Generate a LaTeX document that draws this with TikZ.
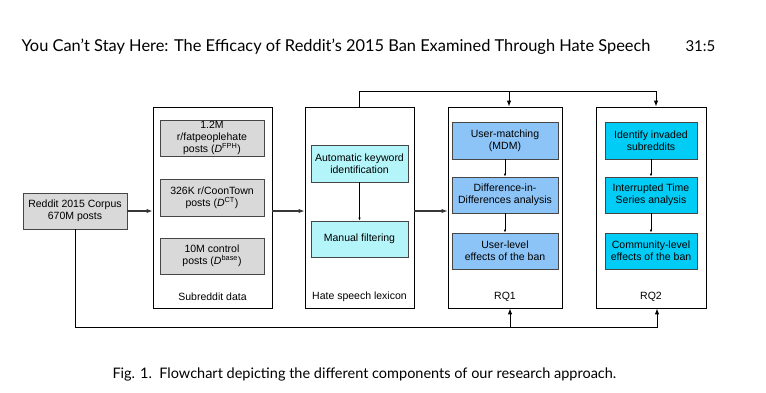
\documentclass[tikz,border=0pt]{standalone}
\usepackage{fontspec}
\usepackage{tikz}
\usepackage{xcolor}
\setmainfont{Liberation Sans}
\newfontfamily\headfont{Lato}
\usetikzlibrary{arrows.meta}
\definecolor{boxgray}{RGB}{217, 217, 217}
\definecolor{lexcyan}{RGB}{180, 245, 250}
\definecolor{rqblue}{RGB}{140, 196, 248}
\definecolor{rqcyan}{RGB}{0, 204, 245}
\definecolor{edgegray}{RGB}{70, 70, 70}
\definecolor{arrowgray}{RGB}{55, 55, 55}

\begin{document}
\begin{tikzpicture}[x = 1pt, y = -1pt, font = \fontsize{10.5}{12}\selectfont, >={Latex[length = 6pt, width = 4.5pt]},
  group/.style = {draw = black, line width = 0.8pt, fill = white, inner sep = 0pt, minimum height = 201pt},
  stage/.style = {draw = edgegray, line width = 0.8pt, align = center, inner sep = 0pt},
  flow/.style = {->, line width = 1.5pt, color = arrowgray},
  inflow/.style = {-{Latex[length = 3pt, width = 2.5pt]}, line width = 0.6pt},
  rail/.style = {->, line width = 1pt}]
\fill[white] (0,0) rectangle (766,393);
\useasboundingbox (0,0) rectangle (766,393);
\node[anchor = base west, font = \headfont\fontsize{16.4}{19}\selectfont] (runhead) at (18,52) {You Can’t Stay Here: The Efficacy of Reddit’s 2015 Ban Examined Through Hate Speech};
\node[anchor = base west, font = \headfont\fontsize{15}{18}\selectfont] (pageno) at (682,52) {31:5};
\node[stage, fill = boxgray, minimum width = 104pt, minimum height = 36pt] (corpus) at (75,211) {Reddit 2015 Corpus\\670M posts};
\node[group, minimum width = 119pt] (subgrp) at (212.5,207.5) {};
\node[stage, fill = boxgray, minimum width = 104pt, minimum height = 36pt] (fph) at (212,138) {1.2M\\r/fatpeoplehate\\posts (\textit{D}\textsuperscript{FPH})};
\node[stage, fill = boxgray, minimum width = 104pt, minimum height = 37pt] (coon) at (212,197.5) {326K r/CoonTown\\posts (\textit{D}\textsuperscript{CT})};
\node[stage, fill = boxgray, minimum width = 104pt, minimum height = 36pt] (base) at (212,256) {10M control\\posts (\textit{D}\textsuperscript{base})};
\node (sublbl) at (212.5,297) {Subreddit data};
\node[group, minimum width = 109pt] (lexgrp) at (359.5,207.5) {};
\node[stage, fill = lexcyan, minimum width = 97pt, minimum height = 37pt] (autokw) at (359.5,163.5) {Automatic keyword\\identification};
\node[stage, fill = lexcyan, minimum width = 97pt, minimum height = 36pt] (manual) at (359.5,239) {Manual filtering};
\node (lexlbl) at (359.5,297) {Hate speech lexicon};
\node[group, minimum width = 114pt] (rqone) at (505,207.5) {};
\node[stage, fill = rqblue, minimum width = 106pt, minimum height = 37pt] (match) at (505,140.5) {User-matching\\(MDM)};
\node[stage, fill = rqblue, minimum width = 106pt, minimum height = 36pt] (did) at (505,195) {Difference-in-\\Differences analysis};
\node[stage, fill = rqblue, minimum width = 106pt, minimum height = 36pt] (userfx) at (505,251) {User-level\\effects of the ban};
\node (rqonelbl) at (505,297) {RQ1};
\node[group, minimum width = 110pt] (rqtwo) at (651,207.5) {};
\node[stage, fill = rqcyan, minimum width = 92pt, minimum height = 37pt] (invade) at (651,140.5) {Identify invaded\\subreddits};
\node[stage, fill = rqcyan, minimum width = 92pt, minimum height = 36pt] (its) at (651,195) {Interrupted Time\\Series analysis};
\node[stage, fill = rqcyan, minimum width = 92pt, minimum height = 36pt] (commfx) at (651,251) {Community-level\\effects of the ban};
\node (rqtwolbl) at (651,297) {RQ2};
\node[anchor = base west, font = \headfont\fontsize{14.5}{17}\selectfont] (caption) at (109,378) {Fig. 1.\ \ Flowchart depicting the different components of our research approach.};
\coordinate (toprail) at (0,92);
\coordinate (botrail) at (0,327);
\coordinate (rqonetop) at ([xshift = 4pt]rqone.north);
\coordinate (rqtwotop) at ([xshift = 5pt]rqtwo.north);
\coordinate (rqonebot) at ([xshift = 5pt]rqone.south);
\coordinate (rqtwobot) at ([xshift = 6pt]rqtwo.south);
\draw[flow] (corpus.east) -- (corpus.east -| subgrp.west);
\draw[flow] (subgrp.east |- corpus) -- (lexgrp.west |- corpus);
\draw[flow] (lexgrp.east |- corpus) -- (rqone.west |- corpus);
\draw[inflow] (autokw) -- (manual);
\draw[inflow] (match) -- (did);
\draw[inflow] (did) -- (userfx);
\draw[inflow] (invade) -- (its);
\draw[inflow] (its) -- (commfx);
\draw[rail] (lexgrp.north) |- (toprail -| rqtwotop) -- (rqtwotop);
\draw[rail] (toprail -| rqonetop) -- (rqonetop);
\draw[rail] (corpus.south) |- (botrail -| rqtwobot) -- (rqtwobot);
\draw[rail] (botrail -| rqonebot) -- (rqonebot);
\end{tikzpicture}
\end{document}
